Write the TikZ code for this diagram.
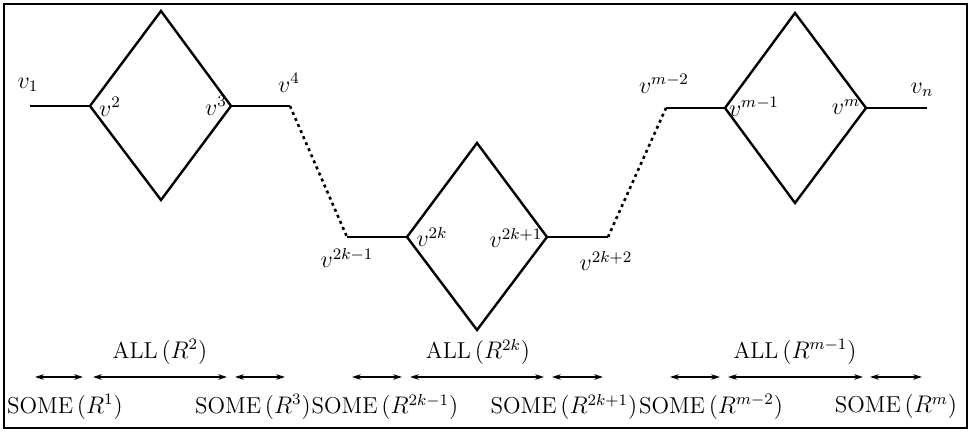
\documentclass[tikz,border=0pt]{standalone}
\usetikzlibrary{arrows.meta}
\begin{document}
\begin{tikzpicture}[x=0.5pt,y=-0.5pt,
  edge/.style={line width=1.2pt,line join=miter},
  dots/.style={line width=1.3pt,dash pattern=on 1.5pt off 1.8pt},
  span/.style={line width=0.6pt,{Stealth[length=4.5pt,width=2.8pt]}-{Stealth[length=4.5pt,width=2.8pt]}},
  lbl/.style={inner sep=0pt,font=\fontsize{12}{14}\selectfont},
  txt/.style={inner sep=0pt,font=\fontsize{11.5}{14}\selectfont}]
\useasboundingbox (0,0) rectangle (971,433);
\draw[line width=0.6pt] (4,4) rectangle (967,428);
% vertices
\coordinate (a1) at (30,106);
\coordinate (d1l) at (90,106);
\coordinate (d1t) at (161,11);
\coordinate (d1r) at (231,106);
\coordinate (d1b) at (161,200);
\coordinate (a4) at (290,106);
\coordinate (b1) at (347,237);
\coordinate (d2l) at (407,237);
\coordinate (d2t) at (477,143);
\coordinate (d2r) at (547,237);
\coordinate (d2b) at (477,330);
\coordinate (b2) at (608,237);
\coordinate (c1) at (666,108);
\coordinate (d3l) at (725,108);
\coordinate (d3t) at (795,13);
\coordinate (d3r) at (866,108);
\coordinate (d3b) at (795,203);
\coordinate (cn) at (927,108);
% edges
\draw[edge] (a1) -- (d1l);
\draw[edge] (d1l) -- (d1t) -- (d1r) -- (d1b) -- cycle;
\draw[edge] (d1r) -- (a4);
\draw[dots] (a4) -- (b1);
\draw[edge] (b1) -- (d2l);
\draw[edge] (d2l) -- (d2t) -- (d2r) -- (d2b) -- cycle;
\draw[edge] (d2r) -- (b2);
\draw[dots] (b2) -- (c1);
\draw[edge] (c1) -- (d3l);
\draw[edge] (d3l) -- (d3t) -- (d3r) -- (d3b) -- cycle;
\draw[edge] (d3r) -- (cn);
% vertex labels
\node[lbl] (l1) at (28,85) {$v_1$};
\node[lbl] (l2) at (110,107) {$v^2$};
\node[lbl] (l3) at (216,106) {$v^3$};
\node[lbl] (l4) at (289,83) {$v^4$};
\node[lbl] (l5) at (347,258) {$v^{2k-1}$};
\node[lbl] (l6) at (432,237) {$v^{2k}$};
\node[lbl] (l7) at (516,238) {$v^{2k+1}$};
\node[lbl] (l8) at (606,261) {$v^{2k+2}$};
\node[lbl] (l9) at (664,84) {$v^{m-2}$};
\node[lbl] (l10) at (754,107) {$v^{m-1}$};
\node[lbl] (l11) at (846,107) {$v^m$};
\node[lbl] (l12) at (922,90) {$v_n$};
% spans
\coordinate (s1a) at (35,377); \coordinate (s1b) at (83,377);
\coordinate (s2a) at (93,377); \coordinate (s2b) at (227,377);
\coordinate (s3a) at (235,377); \coordinate (s3b) at (285,377);
\coordinate (s4a) at (352,377); \coordinate (s4b) at (402,377);
\coordinate (s5a) at (410,377); \coordinate (s5b) at (544,377);
\coordinate (s6a) at (552,377); \coordinate (s6b) at (603,377);
\coordinate (s7a) at (670,377); \coordinate (s7b) at (720,377);
\coordinate (s8a) at (728,377); \coordinate (s8b) at (863,377);
\coordinate (s9a) at (870,377); \coordinate (s9b) at (922,377);
\foreach \i in {1,...,9} \draw[span] (s\i a) -- (s\i b);
% texts
\node[txt] (t1) at (160,352) {ALL\,$(R^2)$};
\node[txt] (t2) at (478,352) {ALL\,$(R^{2k})$};
\node[txt] (t3) at (795,352) {ALL\,$(R^{m-1})$};
\node[txt] (u1) at (65,407) {SOME\,$(R^1)$};
\node[txt] (u2) at (253,407) {SOME\,$(R^3)$};
\node[txt] (u3) at (385,407) {SOME\,$(R^{2k-1})$};
\node[txt] (u4) at (564,407) {SOME\,$(R^{2k+1})$};
\node[txt] (u5) at (711,407) {SOME\,$(R^{m-2})$};
\node[txt] (u6) at (896,407) {SOME\,$(R^m)$};
\end{tikzpicture}
\end{document}
